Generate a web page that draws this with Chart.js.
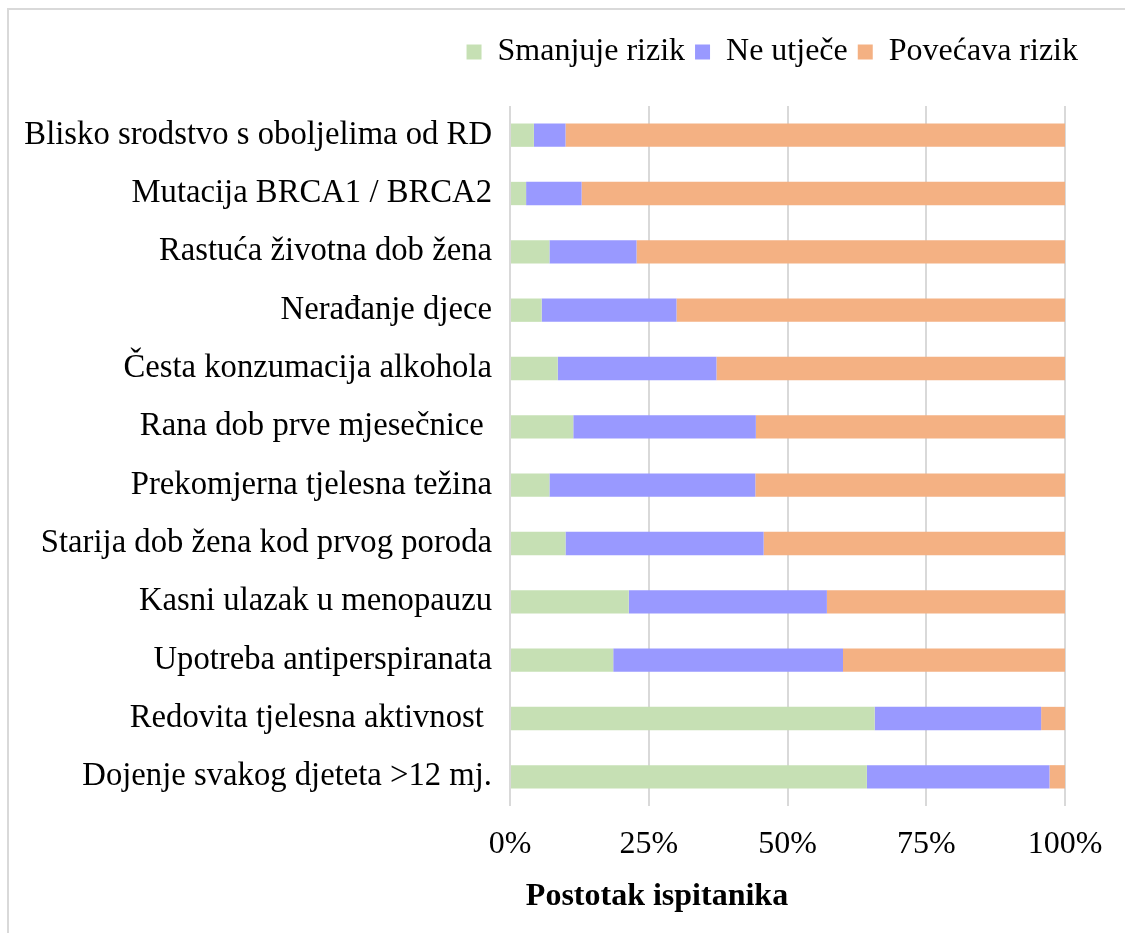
<!DOCTYPE html>
<html>
<head>
<meta charset="utf-8">
<title>Rizični čimbenici</title>
<script src="https://cdn.jsdelivr.net/npm/chart.js@4.4.1/dist/chart.umd.min.js"></script>
<style>
    html,body{margin:0;padding:0;background:#fff}
    #wrap{position:relative;width:1125px;height:933px;overflow:hidden}
    #frame{position:absolute;left:7px;top:8px;width:1200px;height:1000px;border-top:2px solid #d9d9d9;border-left:2px solid #d9d9d9}
    canvas{position:absolute;left:0;top:0}
</style>
</head>
<body>
<div id="wrap">
    <div id="frame"></div>
    <canvas id="myChart"></canvas>
</div>
<script>
//Data
var categories = [
    'Blisko srodstvo s oboljelima od RD',
    'Mutacija BRCA1 / BRCA2',
    'Rastuća životna dob žena',
    'Nerađanje djece',
    'Česta konzumacija alkohola',
    'Rana dob prve mjesečnice ',
    'Prekomjerna tjelesna težina',
    'Starija dob žena kod prvog poroda',
    'Kasni ulazak u menopauzu',
    'Upotreba antiperspiranata',
    'Redovita tjelesna aktivnost ',
    'Dojenje svakog djeteta >12 mj.'
]
var smanjuje = [4.3, 2.9, 7.1, 5.7, 8.6, 11.4, 7.1, 10.0, 21.4, 18.6, 65.7, 64.3]
var neUtjece = [5.7, 10.0, 15.7, 24.3, 28.6, 32.9, 37.1, 35.7, 35.7, 41.4, 30.0, 32.9]
var povecava = [90.0, 87.1, 77.2, 70.0, 62.8, 55.7, 55.8, 54.3, 42.9, 40.0, 4.3, 2.8]
var seriesNames = ['Smanjuje rizik', 'Ne utječe', 'Povećava rizik']
var xTicks = [0, 25, 50, 75, 100]

Chart.defaults.font.family = "'Liberation Serif', 'Times New Roman', serif"
Chart.defaults.font.size = 32
Chart.defaults.color = '#000'

//Extra room under the legend, and push it a bit to the right
var legendGap = {
    id: 'legendGap',
    beforeInit: function(chart){
        var fit = chart.legend.fit
        chart.legend.fit = function(){
            fit.bind(chart.legend)()
            this.height += 28
        }
    },
    afterLayout: function(chart){
        chart.legend.left += 23
        chart.legend.right += 23
    }
}

//Axis title, off-centre as in the original
var axisTitle = {
    id: 'axisTitle',
    afterDraw: function(chart){
        var ctx = chart.ctx
        ctx.save()
        ctx.font = "bold 32px 'Liberation Serif', 'Times New Roman', serif"
        ctx.fillStyle = '#000'
        ctx.textAlign = 'center'
        ctx.textBaseline = 'alphabetic'
        ctx.fillText('Postotak ispitanika', 657, 905)
        ctx.restore()
    }
}

var ctx1 = document.getElementById('myChart')

new Chart(ctx1, {
    type: 'bar',
    data: {
        labels: categories,
        datasets: [{
                label: seriesNames[0],
                data: smanjuje,
                backgroundColor: '#c6e0b4'
            },
            {
                label: seriesNames[1],
                data: neUtjece,
                backgroundColor: '#9999ff'
            },
            {
                label: seriesNames[2],
                data: povecava,
                backgroundColor: '#f4b183'
            }
        ]
    },
    options: {
        indexAxis: 'y',
        responsive: true,
        maintainAspectRatio: false,
        animation: false,
        barPercentage: 0.8,
        categoryPercentage: 0.5,
        layout: {
            padding: { left: 20, right: 60, top: 26, bottom: 0 }
        },
        plugins: {
            legend: {
                position: 'top',
                align: 'end',
                labels: {
                    boxWidth: 15,
                    boxHeight: 15,
                    padding: 10,
                    color: '#000'
                }
            },
            tooltip: { enabled: false }
        },
        scales: {
            x: {
                stacked: true,
                min: 0,
                max: 100,
                afterBuildTicks: function(s){
                    s.ticks = xTicks.map(function(v){ return { value: v } })
                },
                afterFit: function(s){ s.height = 127 },
                grid: {
                    color: '#d9d9d9',
                    lineWidth: 2,
                    drawTicks: false
                },
                border: { display: false },
                ticks: {
                    padding: 19,
                    callback: function(v){ return v + '%' }
                }
            },
            y: {
                stacked: true,
                afterFit: function(s){ s.width = 490 },
                grid: { display: false },
                border: { display: false },
                ticks: {
                    padding: 10,
                    autoSkip: false,
                    font: { size: 32.7 }
                }
            }
        }
    },
    plugins: [legendGap, axisTitle]
})
</script>
</body>
</html>
